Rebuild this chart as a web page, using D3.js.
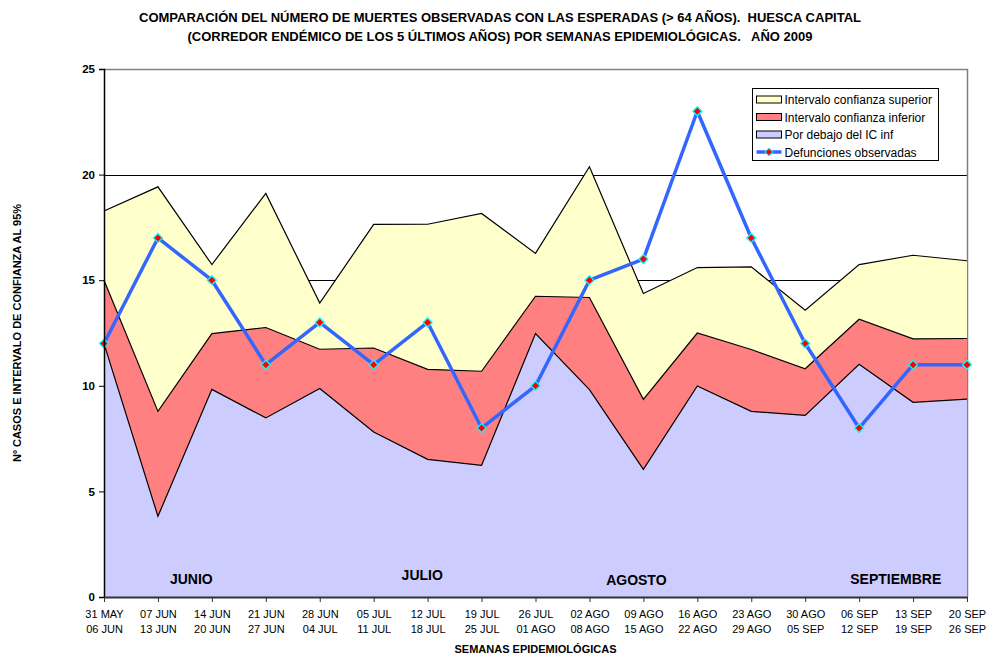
<!DOCTYPE html>
<html>
<head>
<meta charset="utf-8">
<script src="https://cdn.jsdelivr.net/npm/d3@7"></script>
<style>
  body { margin: 0; background: #fff; }
  svg { display: block; font-family: Arial, "Liberation Sans", sans-serif; }
</style>
</head>
<body>
<svg id="chart" width="988" height="656"></svg>
<script>
const weeksTop = ["31 MAY","07 JUN","14 JUN","21 JUN","28 JUN","05 JUL","12 JUL","19 JUL","26 JUL","02 AGO","09 AGO","16 AGO","23 AGO","30 AGO","06 SEP","13 SEP","20 SEP"];
const weeksBottom = ["06 JUN","13 JUN","20 JUN","27 JUN","04 JUL","11 JUL","18 JUL","25 JUL","01 AGO","08 AGO","15 AGO","22 AGO","29 AGO","05 SEP","12 SEP","19 SEP","26 SEP"];
const icSuperior = [18.28,19.42,15.74,19.11,13.92,17.64,17.65,18.16,16.27,20.37,14.37,15.60,15.63,13.58,15.74,16.18,15.92];
const icInferior = [15.0,8.79,12.47,12.76,11.73,11.79,10.78,10.69,14.24,14.18,9.36,12.50,11.72,10.81,13.15,12.22,12.24];
const porDebajo = [12.0,3.82,9.83,8.48,9.87,7.81,6.52,6.23,12.47,9.82,6.04,9.99,8.79,8.60,11.02,9.22,9.37];
const observadas = [12,17,15,11,13,11,13,8,10,15,16,23,17,12,8,11,11];
const yTicks = [0,5,10,15,20,25];
const months = [
  {label:"JUNIO", pos:1.62, val:0.85},
  {label:"JULIO", pos:5.9, val:1.05},
  {label:"AGOSTO", pos:9.87, val:0.8},
  {label:"SEPTIEMBRE", pos:14.68, val:0.85}
];
const legendItems = [
  {label:"Intervalo confianza superior", type:"area", color:"#FFFFCC"},
  {label:"Intervalo confianza inferior", type:"area", color:"#FF8080"},
  {label:"Por debajo del IC inf", type:"area", color:"#CCCCFF"},
  {label:"Defunciones observadas", type:"line", color:"#3366FF"}
];

const svg = d3.select("#chart");
const L = 104, R = 967, T = 69, B = 597;
const idx = d3.range(weeksTop.length);
const x = d3.scalePoint().domain(idx).range([L, R]);
const xl = d3.scaleLinear().domain([0, weeksTop.length - 1]).range([L, R]);
const y = d3.scaleLinear().domain([0, 25]).range([B, T]);

// gridlines
svg.append("g").selectAll("line").data(yTicks.filter(d => d > 0 && d < 25)).join("line")
  .attr("x1", L).attr("x2", R).attr("y1", d => Math.round(y(d)) + 0.5).attr("y2", d => Math.round(y(d)) + 0.5)
  .attr("stroke", "#000").attr("stroke-width", 1);

// plot border (top, right)
svg.append("path")
  .attr("d", `M${L},${T + 0.5}H${R + 0.5}V${B}`)
  .attr("fill", "none").attr("stroke", "#808080").attr("stroke-width", 1.5);

function drawArea(data, color) {
  const area = d3.area().x((d, i) => x(i)).y0(y(0)).y1(d => y(d));
  const line = d3.line().x((d, i) => x(i)).y(d => y(d));
  svg.append("path").datum(data).attr("d", area).attr("fill", color).attr("stroke", "none");
  svg.append("path").datum(data).attr("d", line).attr("fill", "none").attr("stroke", "#000").attr("stroke-width", 1.2);
}
drawArea(icSuperior, "#FFFFCC");
drawArea(icInferior, "#FF8080");
drawArea(porDebajo, "#CCCCFF");

// month labels
svg.append("g").selectAll("text").data(months).join("text")
  .attr("x", d => xl(d.pos)).attr("y", d => y(d.val) + 5)
  .attr("text-anchor", "middle").attr("font-weight", "bold").attr("font-size", 14).attr("fill", "#000")
  .text(d => d.label);

// observed line
svg.append("path").datum(observadas)
  .attr("d", d3.line().x((d, i) => x(i)).y(d => y(d)))
  .attr("fill", "none").attr("stroke", "#3366FF").attr("stroke-width", 3.5).attr("stroke-linejoin", "round");
const diamond = d3.symbol().type(d3.symbolSquare).size(40);
svg.append("g").selectAll("path").data(observadas).join("path")
  .attr("transform", (d, i) => `translate(${x(i)},${y(d)}) rotate(45)`)
  .attr("d", diamond).attr("fill", "#FF0000").attr("stroke", "#00FFFF").attr("stroke-width", 1.3);

// axes
const yAxis = svg.append("g").attr("transform", `translate(${L},0)`)
  .call(d3.axisLeft(y).tickValues(yTicks).tickSize(5).tickPadding(4).tickFormat(d3.format("d")));
yAxis.select(".domain").attr("stroke", "#000").attr("stroke-width", 1.5);
yAxis.selectAll("text").attr("font-size", 11.5).attr("font-weight", "bold").attr("font-family", "Arial, 'Liberation Sans', sans-serif").attr("fill", "#000");

const xAxis = svg.append("g").attr("transform", `translate(0,${B})`)
  .call(d3.axisBottom(x).tickSize(5).tickSizeOuter(0).tickFormat(() => ""));
xAxis.select(".domain").attr("stroke", "#333").attr("stroke-width", 2);
xAxis.selectAll(".tick line").attr("stroke", "#333");
xAxis.selectAll(".tick").each(function(d) {
  const t = d3.select(this).append("text").attr("fill", "#000").attr("font-size", 11)
    .attr("font-family", "Arial, 'Liberation Sans', sans-serif").attr("text-anchor", "middle");
  t.append("tspan").attr("x", 0).attr("y", 21).text(weeksTop[d]);
  t.append("tspan").attr("x", 0).attr("y", 36).text(weeksBottom[d]);
});

// titles
svg.append("text").attr("x", 500).attr("y", 22).attr("text-anchor", "middle").attr("xml:space", "preserve")
  .attr("font-weight", "bold").attr("font-size", 13).text("COMPARACIÓN DEL NÚMERO DE MUERTES OBSERVADAS CON LAS ESPERADAS (> 64 AÑOS).  HUESCA CAPITAL");
svg.append("text").attr("x", 500).attr("y", 41).attr("text-anchor", "middle")
  .attr("font-weight", "bold").attr("font-size", 13).attr("xml:space", "preserve")
  .text("(CORREDOR ENDÉMICO DE LOS 5 ÚLTIMOS AÑOS) POR SEMANAS EPIDEMIOLÓGICAS.   AÑO 2009");
svg.append("text").attr("x", 535.5).attr("y", 653).attr("text-anchor", "middle")
  .attr("font-weight", "bold").attr("font-size", 11).text("SEMANAS EPIDEMIOLÓGICAS");
svg.append("text").attr("transform", "translate(21,333) rotate(-90)").attr("text-anchor", "middle")
  .attr("font-weight", "bold").attr("font-size", 11).text("Nº CASOS E INTERVALO DE CONFIANZA AL 95%");

// legend
const lg = svg.append("g").attr("transform", "translate(752.5,88.5)");
lg.append("rect").attr("width", 186).attr("height", 72).attr("fill", "#fff").attr("stroke", "#000").attr("stroke-width", 1);
const rows = lg.selectAll("g").data(legendItems).join("g")
  .attr("transform", (d, i) => `translate(0,${11 + i * 17.5})`);
rows.each(function(d) {
  const g = d3.select(this);
  if (d.type === "area") {
    g.append("rect").attr("x", 4).attr("y", -3.5).attr("width", 25).attr("height", 7)
      .attr("fill", d.color).attr("stroke", "#000").attr("stroke-width", 1);
  } else {
    g.append("line").attr("x1", 4).attr("x2", 29).attr("y1", 0).attr("y2", 0)
      .attr("stroke", d.color).attr("stroke-width", 3.5);
    g.append("path").attr("transform", "translate(16.5,0) rotate(45)").attr("d", d3.symbol().type(d3.symbolSquare).size(30))
      .attr("fill", "#FF0000").attr("stroke", "#00FFFF").attr("stroke-width", 1);
  }
  g.append("text").attr("x", 32).attr("y", 4.5).attr("font-size", 12).attr("fill", "#000").text(d.label);
});
</script>
</body>
</html>
